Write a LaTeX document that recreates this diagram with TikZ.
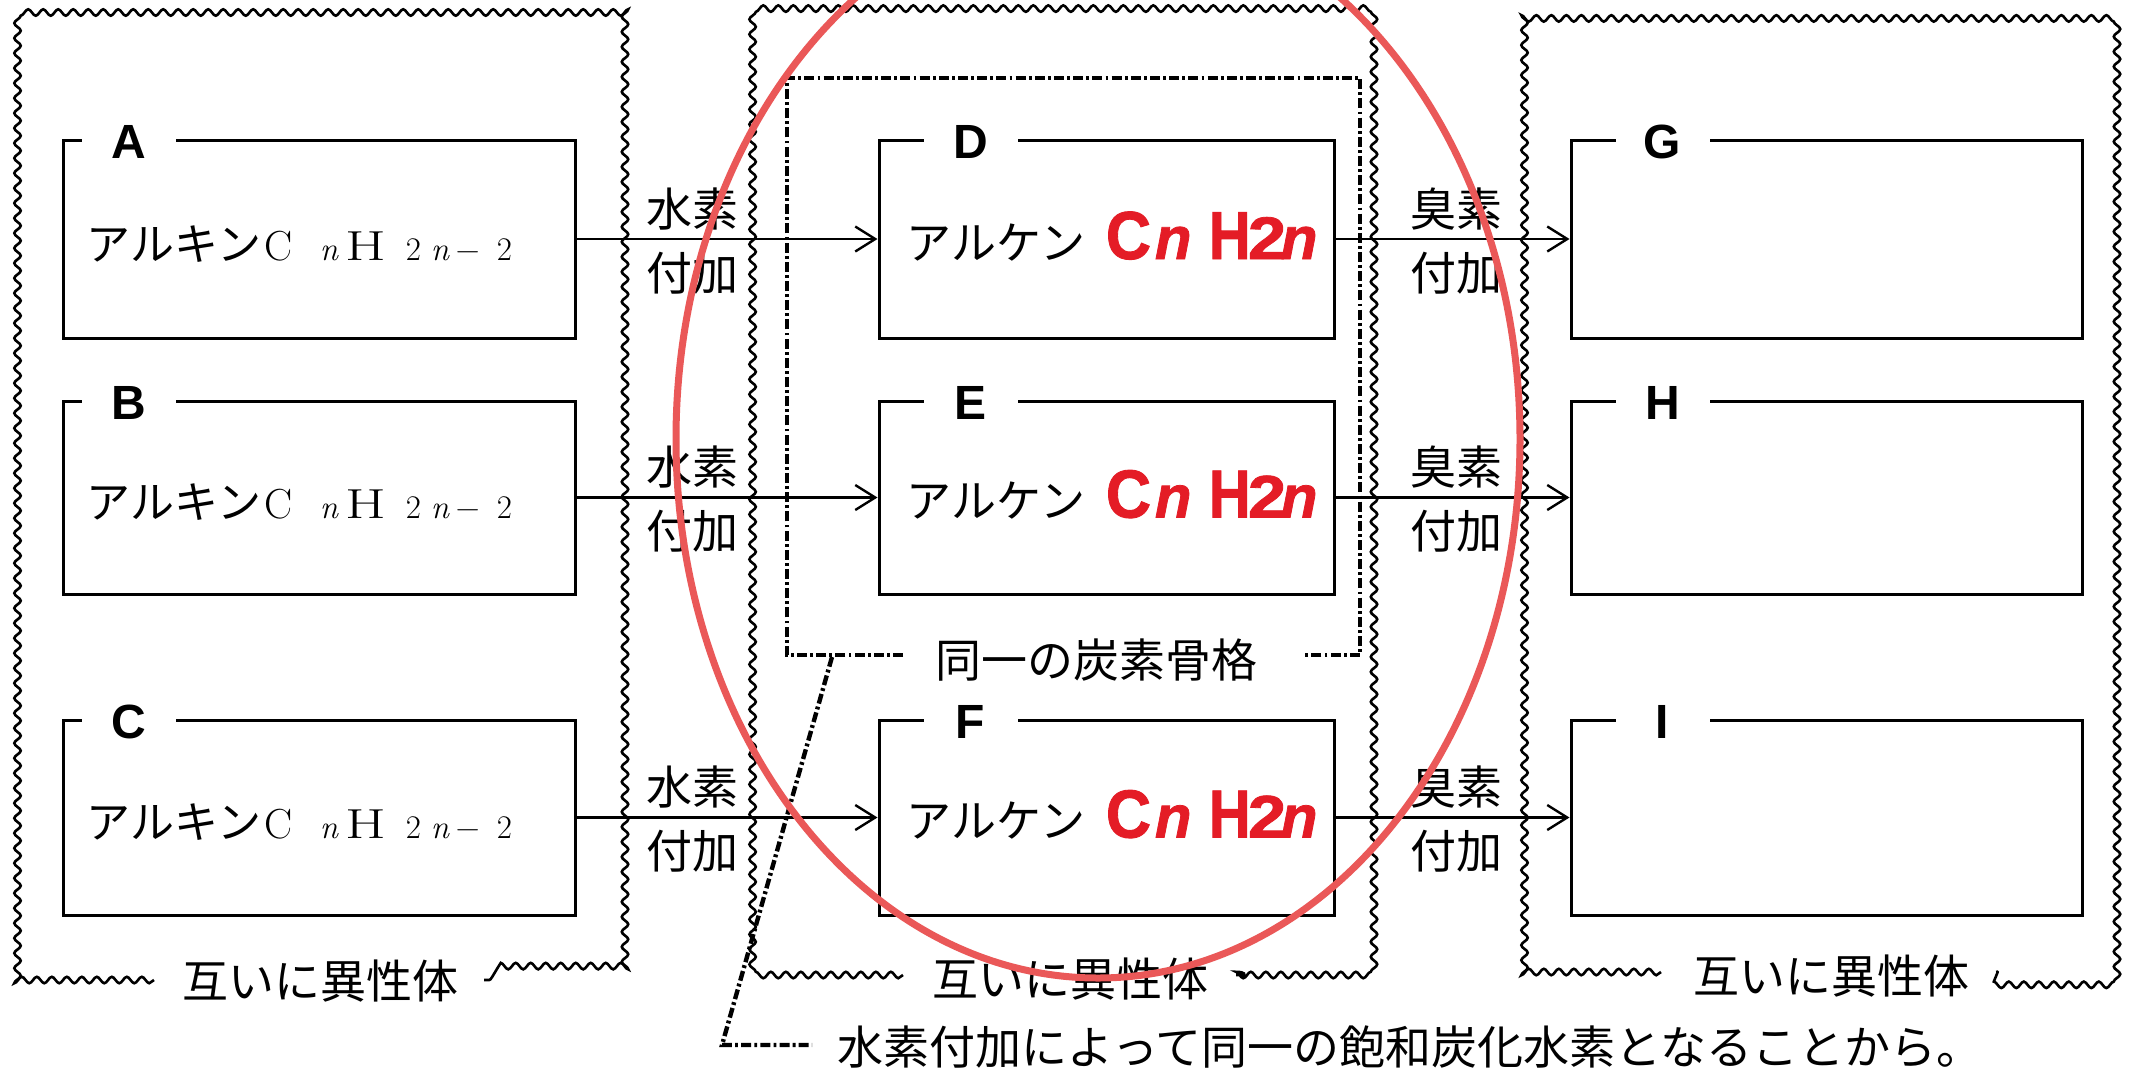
\documentclass[tikz,border=0pt]{standalone}
\usepackage{fontspec}
\usetikzlibrary{arrows.meta,decorations.pathmorphing,calc}
\newfontfamily\jp{Noto Sans CJK JP}
\newfontfamily\lsans{Liberation Sans}
\newfontfamily\redf[FakeBold=1.3]{Liberation Sans}
\definecolor{formred}{RGB}{228,28,38}
\definecolor{ringred}{RGB}{234,88,88}
\newcommand\gl[2]{\makebox[0pt][l]{\hspace*{#1}#2}}
\newcommand\alkyneText{%
\gl{0pt}{\jp\fontsize{22}{22}\selectfont アルキン}%
\gl{89pt}{\fontsize{21}{21}\selectfont C}%
\gl{116.5pt}{\fontsize{16.5}{16.5}\selectfont\itshape n}%
\gl{129.5pt}{\fontsize{21}{21}\selectfont\scalebox{1.4}[1]{H}}%
\gl{159.5pt}{\fontsize{16.5}{16.5}\selectfont 2}%
\gl{172pt}{\fontsize{16.5}{16.5}\selectfont\itshape n}%
\gl{184.5pt}{\fontsize{16.5}{16.5}\selectfont −}%
\gl{205pt}{\fontsize{16.5}{16.5}\selectfont 2}}
\newcommand\alkeneText{%
\gl{0pt}{\jp\fontsize{22.5}{22.5}\selectfont アルケン}%
\gl{99.5pt}{\color{formred}\redf\bfseries\fontsize{34}{34}\selectfont\scalebox{0.92}[1]{C}}%
\gl{124pt}{\color{formred}\redf\bfseries\itshape\fontsize{30}{30}\selectfont n}%
\gl{151pt}{\color{formred}\redf\bfseries\fontsize{34}{34}\selectfont\scalebox{0.85}[1]{H}}%
\gl{170.5pt}{\color{formred}\redf\bfseries\fontsize{30}{30}\selectfont\scalebox{1.15}[1]{2}}%
\gl{187pt}{\color{formred}\redf\bfseries\itshape\fontsize{30}{30}\selectfont n}}
\begin{document}
\begin{tikzpicture}[x=0.5pt,y=-0.5pt,
  box/.style={draw,line width=1.5pt,inner sep=0pt},
  tag/.style={fill=white,inner sep=0pt,minimum width=47pt,font=\lsans\bfseries\fontsize{24}{24}\selectfont},
  jl/.style={font=\jp\fontsize{23}{27}\selectfont,inner sep=0pt},
  arr/.style={line width=1.2pt,-{Straight Barb[length=10pt,width=12.5pt,line width=1.2pt]}},
  wavy/.style={line width=1.3pt,decorate,decoration={snake,segment length=7.5pt,amplitude=1.6pt}},
  dd/.style={line width=2.2pt,dash pattern=on 5pt off 1.6pt on 1.4pt off 1.6pt},
  ring/.style={draw=ringred,line width=3.5pt}]
\useasboundingbox[fill=white] (0,0) rectangle (2130,1067);

% wavy group frames
\draw[wavy] (154,980) -- (15,980) -- (15,16) -- (622,16) -- (622,980) -- (484,980);
\draw[wavy] (903,975) -- (763,975) -- (763,15) -- (1384,15) -- (1384,975) -- (1236,975);
\draw[wavy] (1661,972) -- (1527,972) -- (1527,12) -- (2123,12) -- (2123,972) -- (1996,972);
\node[jl] (isoL) at (320,981) {互いに異性体};
\node[jl] (isoM) at (1070,979) {互いに異性体};
\node[jl] (isoR) at (1831,976) {互いに異性体};

% dash-dot frame
\draw[dd] (903,655) -- (787,655) -- (787,78) -- (1360,78) -- (1360,655) -- (1303,655);
\node[jl] (same) at (1096,660) {同一の炭素骨格};

% boxes
\node[box,minimum width=256pt,minimum height=99pt] (A) at (319,239) {};
\node[box,minimum width=256pt,minimum height=96.5pt] (B) at (319,497.5) {};
\node[box,minimum width=256pt,minimum height=97.5pt] (C) at (319,817.5) {};
\node[box,minimum width=227.5pt,minimum height=99pt] (D) at (1106.5,239) {};
\node[box,minimum width=227.5pt,minimum height=96.5pt] (E) at (1106.5,497.5) {};
\node[box,minimum width=227.5pt,minimum height=97.5pt] (F) at (1106.5,817.5) {};
\node[box,minimum width=255.5pt,minimum height=99pt] (G) at (1826.5,239) {};
\node[box,minimum width=255.5pt,minimum height=96.5pt] (H) at (1826.5,497.5) {};
\node[box,minimum width=255.5pt,minimum height=97.5pt] (I) at (1826.5,817.5) {};

% tags
\node[tag] (tA) at ($(A.north west)+(67,3)$) {A};
\node[tag] (tB) at ($(B.north west)+(67,3)$) {B};
\node[tag] (tC) at ($(C.north west)+(67,3)$) {C};
\node[tag] (tD) at ($(D.north west)+(93,3)$) {D};
\node[tag] (tE) at ($(E.north west)+(93,3)$) {E};
\node[tag] (tF) at ($(F.north west)+(93,3)$) {F};
\node[tag] (tG) at ($(G.north west)+(93,3)$) {G};
\node[tag] (tH) at ($(H.north west)+(93,3)$) {H};
\node[tag] (tI) at ($(I.north west)+(93,3)$) {I};

% box texts
\node[anchor=base west,inner sep=0pt] (xA) at ($(A.west)+(24,21)$) {\alkyneText};
\node[anchor=base west,inner sep=0pt] (xB) at ($(B.west)+(24,21)$) {\alkyneText};
\node[anchor=base west,inner sep=0pt] (xC) at ($(C.west)+(24,21)$) {\alkyneText};
\node[anchor=base west,inner sep=0pt] (xD) at ($(D.west)+(28,20)$) {\alkeneText};
\node[anchor=base west,inner sep=0pt] (xE) at ($(E.west)+(28,20)$) {\alkeneText};
\node[anchor=base west,inner sep=0pt] (xF) at ($(F.west)+(28,20)$) {\alkeneText};

% arrows
\draw[arr] (A.east) -- (D.west);
\draw[arr] (B.east) -- (E.west);
\draw[arr] (C.east) -- (F.west);
\draw[arr] (D.east) -- (G.west);
\draw[arr] (E.east) -- (H.west);
\draw[arr] (F.east) -- (I.west);

% arrow labels
\node[jl] (h1a) at (692,209) {水素};
\node[jl] (h1b) at (692,273) {付加};
\node[jl] (h2a) at (692,467.5) {水素};
\node[jl] (h2b) at (692,531.5) {付加};
\node[jl] (h3a) at (692,787.5) {水素};
\node[jl] (h3b) at (692,851.5) {付加};
\node[jl] (b1a) at (1456,209) {臭素};
\node[jl] (b1b) at (1456,273) {付加};
\node[jl] (b2a) at (1456,467.5) {臭素};
\node[jl] (b2b) at (1456,531.5) {付加};
\node[jl] (b3a) at (1456,787.5) {臭素};
\node[jl] (b3b) at (1456,851.5) {付加};

% note
\node[jl,anchor=west] (note) at (837,1047) {水素付加によって同一の飽和炭化水素となることから。};
\draw[dd] (832,657) -- (722,1045) -- (812,1045);

% red ring
\draw[ring] (1098,439) ellipse [x radius=211pt, y radius=269.5pt];
\end{tikzpicture}
\end{document}
